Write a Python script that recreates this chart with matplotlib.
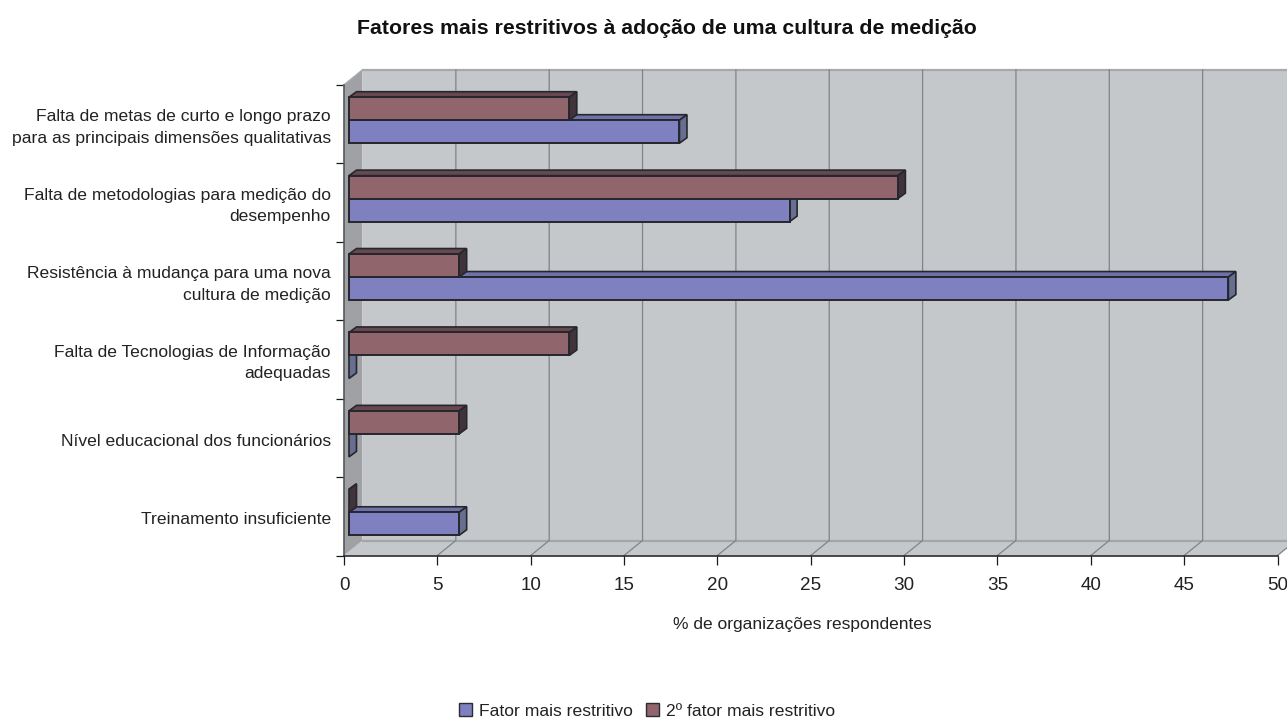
import matplotlib
matplotlib.use('Agg')
import matplotlib.pyplot as plt
from matplotlib.patches import Polygon, Patch

plt.rcParams['font.family'] = ['Liberation Sans', 'DejaVu Sans']

categories = ['Falta de metas de curto e longo prazo\npara as principais dimensões qualitativas',
              'Falta de metodologias para medição do\ndesempenho',
              'Resistência à mudança para uma nova\ncultura de medição',
              'Falta de Tecnologias de Informação\nadequadas',
              'Nível educacional dos funcionários',
              'Treinamento insuficiente']
first_factor = [17.7, 23.6, 47.1, 0, 0, 5.9]
second_factor = [11.8, 29.4, 5.9, 11.8, 5.9, 0]
x_ticks = list(range(0, 55, 5))

W, H = 1287, 720
X0, X1, Y0, Y1 = 344, 1277.5, 555.5, 85

fig = plt.figure(figsize=(W / 100, H / 100), dpi=100)
ax = fig.add_axes([X0 / W, 1 - Y0 / H, (X1 - X0) / W, (Y0 - Y1) / H])
ax.set_xlim(0, 50)
ax.set_ylim(0, 6)

# pixels -> data units
ux = 50 / (X1 - X0)
uy = 6 / (Y0 - Y1)
wall_dx, wall_dy = 18.5 * ux, 15 * uy
bar_x, bar_y = 5 * ux, 4 * uy
depth_x, depth_y = 7.5 * ux, 5.5 * uy
bar_h = 23 * uy

WALL = '#c4c8cb'
SIDE_WALL = '#a0a1a5'
GRID = '#808488'


def poly(pts, color, z, ec='none', lw=0):
    ax.add_patch(Polygon(pts, closed=True, fc=color, ec=ec, lw=lw, zorder=z,
                         clip_on=False, joinstyle='miter'))


# walls and floor
poly([(0, 0), (50, 0), (50 + wall_dx, wall_dy), (wall_dx, wall_dy)], WALL, 1)
poly([(wall_dx, wall_dy), (50 + wall_dx, wall_dy), (50 + wall_dx, 6 + wall_dy), (wall_dx, 6 + wall_dy)], WALL, 1)
poly([(0, 0), (wall_dx, wall_dy), (wall_dx, 6 + wall_dy), (0, 6)], SIDE_WALL, 1.5)
ax.plot([wall_dx, 50 + wall_dx], [wall_dy, wall_dy], color='#a3a6a9', lw=1.6, zorder=2, clip_on=False)
ax.plot([wall_dx, 50 + wall_dx], [6 + wall_dy, 6 + wall_dy], color='#a8a8ae', lw=1.6, zorder=2, clip_on=False)
ax.plot([0, wall_dx], [6, 6 + wall_dy], color='#a8a8ae', lw=1.2, zorder=2, clip_on=False)
for v in x_ticks[1:]:
    ax.plot([v, v + wall_dx, v + wall_dx], [0, wall_dy, 6 + wall_dy], color=GRID, lw=0.9, zorder=2, clip_on=False)


def draw_bar(value, bottom, front, top, side, z):
    x0 = bar_x
    x1 = bar_x + value
    y0, y1 = bottom, bottom + bar_h
    edge = '#26262e'
    poly([(x0, y1), (x1, y1), (x1 + depth_x, y1 + depth_y), (x0 + depth_x, y1 + depth_y)], top, z, edge, 1.2)
    poly([(x1, y0), (x1 + depth_x, y0 + depth_y), (x1 + depth_x, y1 + depth_y), (x1, y1)], side, z, edge, 1.2)
    if value > 0:
        ax.barh(bottom, value, height=bar_h, left=x0, align='edge', color=front,
                edgecolor=edge, linewidth=1.4, zorder=z + 0.1)


for i, (a, b) in enumerate(zip(first_factor, second_factor)):
    centre = 5.5 - i + bar_y
    draw_bar(a, centre - bar_h, '#7e80bf', '#6f72a9', '#666f8f', 3 + i)
    draw_bar(b, centre, '#90656c', '#66484f', '#40343a', 3.5 + i)

ax.patch.set_visible(False)
for s in ['top', 'right']:
    ax.spines[s].set_visible(False)
ax.spines['left'].set_color('#55585c')
ax.spines['left'].set_linewidth(1.2)
ax.spines['bottom'].set_color('#1a1a1a')
ax.spines['bottom'].set_linewidth(1.1)
ax.spines['left'].set_zorder(2.5)
ax.spines['bottom'].set_zorder(2.5)

ax.set_xticks(x_ticks)
ax.set_xticklabels([str(v) for v in x_ticks], fontsize=13.6, color='#222222')
ax.tick_params(axis='x', length=6.5, width=0.9, pad=9, color='#1a1a1a')
ax.set_yticks(range(7))
ax.set_yticklabels([])
ax.tick_params(axis='y', length=6, width=0.9, color='#1a1a1a')

for i, name in enumerate(categories):
    ax.annotate(name, xy=(0, 5.5 - i), xycoords='data', xytext=(-13 * 0.72, -3.5 * 0.72),
                textcoords='offset points', ha='right', va='center', fontsize=12.6,
                color='#222222', linespacing=1.55)

fig.text(667 / W, 1 - 28 / H, 'Fatores mais restritivos à adoção de uma cultura de medição',
         ha='center', va='center', fontsize=15.3, fontweight='bold', color='#111111')
fig.text(802 / W, 1 - 624 / H, '% de organizações respondentes', ha='center', va='center',
         fontsize=12.55, color='#222222')

handles = [Patch(fc='#7e80bf', ec='#2b2b33', lw=1.0), Patch(fc='#90656c', ec='#2b2b33', lw=1.0)]
fig.legend(handles, ['Fator mais restritivo', '2º fator mais restritivo'], ncol=2, frameon=False,
           loc='center', bbox_to_anchor=(647 / W, 1 - 711 / H), fontsize=12.6,
           handlelength=0.72, handleheight=0.72, handletextpad=0.4, columnspacing=0.75,
           labelcolor='#222222', borderpad=0)

fig.savefig('out.png', dpi=100)
